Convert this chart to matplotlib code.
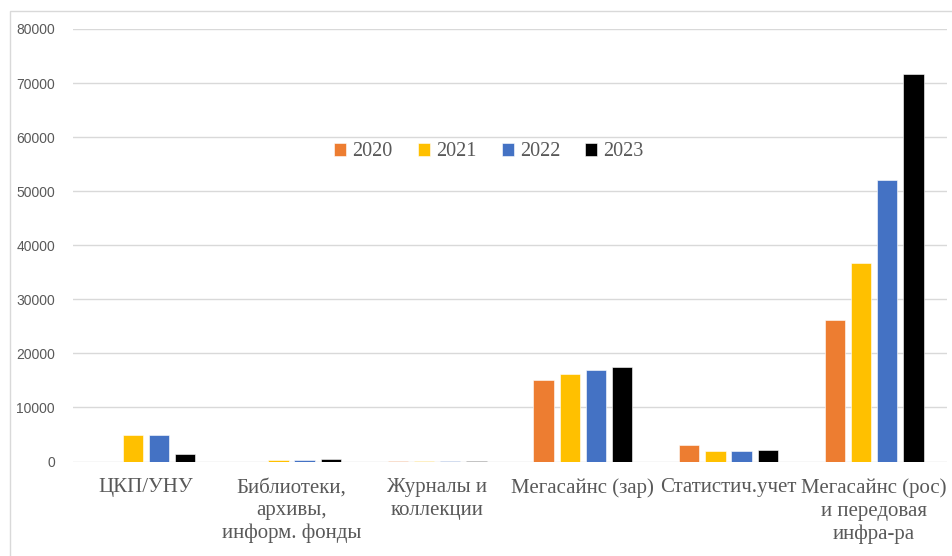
import numpy as np
import matplotlib
matplotlib.use("Agg")
import matplotlib.pyplot as plt
from matplotlib.patches import Rectangle

categories = ["ЦКП/УНУ", "Библиотеки,\nархивы,\nинформ. фонды", "Журналы и\nколлекции",
              "Мегасайнс (зар)", "Статистич.учет", "Мегасайнс (рос)\nи передовая\nинфра-ра"]
years = ["2020", "2021", "2022", "2023"]
v2020 = [0, 0, 100, 15050, 3050, 26200]
v2021 = [4850, 350, 100, 16100, 2000, 36700]
v2022 = [4850, 350, 120, 16900, 2000, 52000]
v2023 = [1400, 450, 150, 17400, 2100, 71750]
colors = ["#ED7D31", "#FFC000", "#4472C4", "#000000"]

fig = plt.figure(figsize=(9.53, 5.56), dpi=100)
ax = fig.add_axes([73 / 953, 1 - 461.5 / 556, 874 / 953, 432.5 / 556])

# light frame around the whole chart
fig.patches.append(Rectangle((10 / 953, -0.1), 1.2, 1 - 11 / 556 + 0.1, transform=fig.transFigure,
                             fill=False, edgecolor="#D9D9D9", linewidth=1))

x = np.arange(len(categories))
w = 0.14
step = 0.18
for i, (vals, yr) in enumerate(zip([v2020, v2021, v2022, v2023], years)):
    ax.bar(x + (i - 1.5) * step, vals, width=w, color=colors[i], label=yr,
           edgecolor="white", linewidth=0.4, zorder=3)

ax.set_xlim(-0.5, len(categories) - 0.5)
ax.set_ylim(0, 80000)
ax.set_yticks(np.arange(0, 80001, 10000))
ax.yaxis.grid(True, color="#D9D9D9", linewidth=1, zorder=0)
for s in ax.spines.values():
    s.set_visible(False)
ax.tick_params(axis="both", length=0)
ax.tick_params(axis="y", pad=13, labelcolor="#595959")
for t in ax.get_yticklabels():
    t.set_fontfamily("Liberation Sans")
    t.set_fontsize(10)

ax.set_xticks(x)
ax.set_xticklabels(categories, fontfamily="Liberation Serif", fontsize=15,
                   color="#595959", linespacing=1.27)
ax.tick_params(axis="x", pad=12)

leg = ax.legend(loc="center", bbox_to_anchor=(0.476, 0.716), ncol=4, frameon=False,
                handlelength=0.6, handleheight=0.6, columnspacing=1.25, handletextpad=0.3,
                prop={"family": "Liberation Serif", "size": 14.5})
for t in leg.get_texts():
    t.set_color("#595959")

fig.savefig("out.png", dpi=100)
